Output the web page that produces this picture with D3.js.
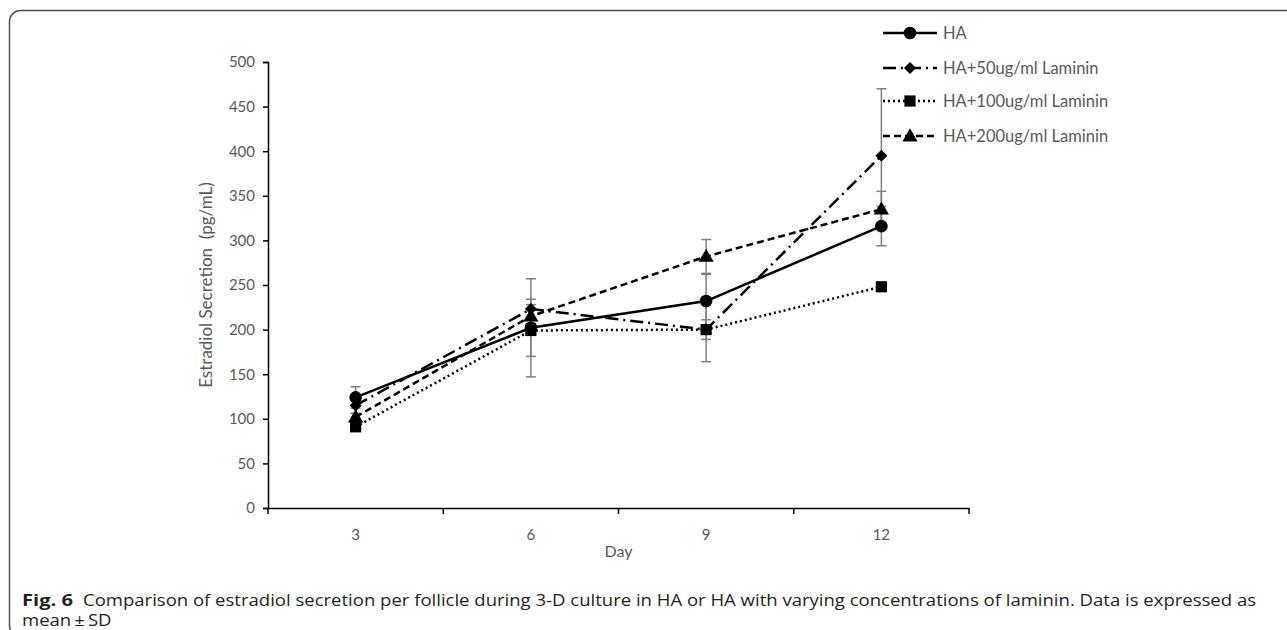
<!DOCTYPE html>
<html>
<head>
<meta charset="utf-8">
<script src="https://cdn.jsdelivr.net/npm/d3@7"></script>
<style>
  html, body { margin: 0; padding: 0; background: #fff; }
  svg { display: block; }
</style>
</head>
<body>
<svg id="chart" width="1287" height="630"></svg>
<script>
// ---- data ----
const days = ["3", "6", "9", "12"];
const seriesNames = ["HA", "HA+50ug/ml Laminin", "HA+100ug/ml Laminin", "HA+200ug/ml Laminin"];
const haMean = [124, 202, 232, 316];
const haSD = [12, 55, 30, 22];
const la50Mean = [115, 223, 200, 395];
const la50SD = [9, 11, 11, 75];
const la100Mean = [91, 199, 200, 248];
const la100SD = [4, 29, 36, 4];
const la200Mean = [102, 215, 282, 335];
const la200SD = [4, 8, 19, 20];
const yTicks = [0, 50, 100, 150, 200, 250, 300, 350, 400, 450, 500];
const xTitle = "Day";
const yTitle = "Estradiol Secretion  (pg/mL)";
const captionBold = "Fig. 6";
const captionLine1 = "Comparison of estradiol secretion per follicle during 3-D culture in HA or HA with varying concentrations of laminin. Data is expressed as";
const captionLine2 = "mean\u2009\u00b1\u2009SD";

(function () {
const series = [
  { name: seriesNames[0], mean: haMean, sd: haSD, dash: null, marker: "circle" },
  { name: seriesNames[1], mean: la50Mean, sd: la50SD, dash: "13,5,2,5", marker: "diamond" },
  { name: seriesNames[2], mean: la100Mean, sd: la100SD, dash: "2,3", marker: "square" },
  { name: seriesNames[3], mean: la200Mean, sd: la200SD, dash: "7,4", marker: "triangle" }
];

const svg = d3.select("#chart");
const chartFont = "Lato, 'Open Sans', sans-serif";
const axisGray = "#595959";

// figure frame
svg.append("rect")
  .attr("x", 9.5).attr("y", 10.5)
  .attr("width", 1320).attr("height", 626)
  .attr("rx", 11).attr("ry", 11)
  .attr("fill", "none").attr("stroke", "#4d4d4d").attr("stroke-width", 1.5);

const mLeft = 268, mRight = 969, mTop = 62, mBottom = 508;
const x = d3.scaleBand().domain(days).range([mLeft, mRight]);
const y = d3.scaleLinear().domain([0, 500]).range([mBottom, mTop]);

// y axis
const yAxis = svg.append("g").attr("transform", `translate(${mLeft},0)`)
  .call(d3.axisLeft(y).tickValues(yTicks).tickSize(5).tickPadding(8));
yAxis.select(".domain").attr("stroke", "#000").attr("stroke-width", 1.5);
yAxis.selectAll(".tick line").attr("stroke", "#000").attr("stroke-width", 1.5);
yAxis.selectAll(".tick text").attr("fill", axisGray).style("font-family", chartFont).style("font-size", "15px");

// x axis
const xAxis = svg.append("g").attr("transform", `translate(0,${mBottom})`)
  .call(d3.axisBottom(x).tickSize(0).tickPadding(21));
xAxis.select(".domain").attr("stroke", "#000").attr("stroke-width", 1.5);
xAxis.selectAll(".tick text").attr("fill", axisGray).style("font-family", chartFont).style("font-size", "15px");
const bounds = days.map(d => x(d)).concat([x(days[days.length - 1]) + x.bandwidth()]);
xAxis.selectAll("line.bound").data(bounds).enter().append("line")
  .attr("class", "bound")
  .attr("x1", d => d).attr("x2", d => d)
  .attr("y1", 0).attr("y2", 6)
  .attr("stroke", "#000").attr("stroke-width", 1.5);

// axis titles
svg.append("text")
  .attr("x", (mLeft + mRight) / 2).attr("y", 557)
  .attr("text-anchor", "middle")
  .attr("fill", axisGray).style("font-family", chartFont).style("font-size", "16px")
  .text(xTitle);
svg.append("text")
  .attr("transform", `translate(212,${(mTop + mBottom) / 2}) rotate(-90)`)
  .attr("text-anchor", "middle")
  .attr("fill", axisGray).style("font-family", chartFont).style("font-size", "17px")
  .style("white-space", "pre")
  .text(yTitle);

const cx = d => x(d) + x.bandwidth() / 2;

// error bars
const eb = svg.append("g");
series.forEach(s => {
  days.forEach((d, i) => {
    const hi = y(s.mean[i] + s.sd[i]), lo = y(s.mean[i] - s.sd[i]);
    const xx = cx(d);
    eb.append("line").attr("x1", xx).attr("x2", xx).attr("y1", hi).attr("y2", lo)
      .attr("stroke", "#7f7f7f").attr("stroke-width", 1.5);
    [hi, lo].forEach(yy => eb.append("line")
      .attr("x1", xx - 5).attr("x2", xx + 5).attr("y1", yy).attr("y2", yy)
      .attr("stroke", "#7f7f7f").attr("stroke-width", 1.5));
  });
});

// lines
const line = d3.line().x((v, i) => cx(days[i])).y(v => y(v));
series.forEach(s => {
  svg.append("path").datum(s.mean)
    .attr("d", line)
    .attr("fill", "none").attr("stroke", "#000").attr("stroke-width", 2.5)
    .attr("stroke-dasharray", s.dash);
});

// markers
const symbolMap = {
  circle: d3.symbol().type(d3.symbolCircle).size(125),
  diamond: d3.symbol().type(d3.symbolSquare).size(72),
  square: d3.symbol().type(d3.symbolSquare).size(125),
  triangle: d3.symbol().type(d3.symbolTriangle).size(100)
};
function drawMarker(g, type, px, py) {
  const p = g.append("path").attr("d", symbolMap[type]()).attr("fill", "#000");
  if (type === "diamond") p.attr("transform", `translate(${px},${py}) rotate(45)`);
  else if (type === "triangle") p.attr("transform", `translate(${px},${py + 1})`);
  else p.attr("transform", `translate(${px},${py})`);
}
series.forEach(s => {
  s.mean.forEach((v, i) => drawMarker(svg, s.marker, cx(days[i]), y(v)));
});

// legend
const legY = [33, 68, 101, 136];
const lg = svg.append("g");
series.forEach((s, i) => {
  const yy = legY[i];
  lg.append("line").attr("x1", 883).attr("x2", 937).attr("y1", yy).attr("y2", yy)
    .attr("stroke", "#000").attr("stroke-width", 2.5).attr("stroke-dasharray", s.dash);
  drawMarker(lg, s.marker, 910, yy);
  lg.append("text").attr("x", 943).attr("y", yy + 5.5)
    .attr("fill", axisGray).style("font-family", chartFont).style("font-size", "16.5px")
    .text(s.name);
});

// caption
const capFont = "'Open Sans', 'Noto Sans', sans-serif";
svg.append("text").attr("x", 22).attr("y", 606)
  .style("font-family", capFont).style("font-size", "16px").style("font-weight", "bold")
  .attr("fill", "#231f20")
  .attr("textLength", 51).attr("lengthAdjust", "spacingAndGlyphs")
  .text(captionBold);
const body = svg.append("text").attr("x", 83).attr("y", 606)
  .style("font-family", capFont).style("font-size", "16px")
  .attr("fill", "#231f20")
  .text(captionLine1);
const w = body.node().getComputedTextLength();
const k = w > 0 ? (1256 - 83) / w : 1;
body.attr("textLength", 1256 - 83).attr("lengthAdjust", "spacingAndGlyphs");
const l2 = svg.append("text").attr("x", 22).attr("y", 626)
  .style("font-family", capFont).style("font-size", "16px")
  .attr("fill", "#231f20")
  .text(captionLine2);
const w2 = l2.node().getComputedTextLength();
if (w2 > 0) l2.attr("textLength", w2 * k).attr("lengthAdjust", "spacingAndGlyphs");
})();
</script>
</body>
</html>
